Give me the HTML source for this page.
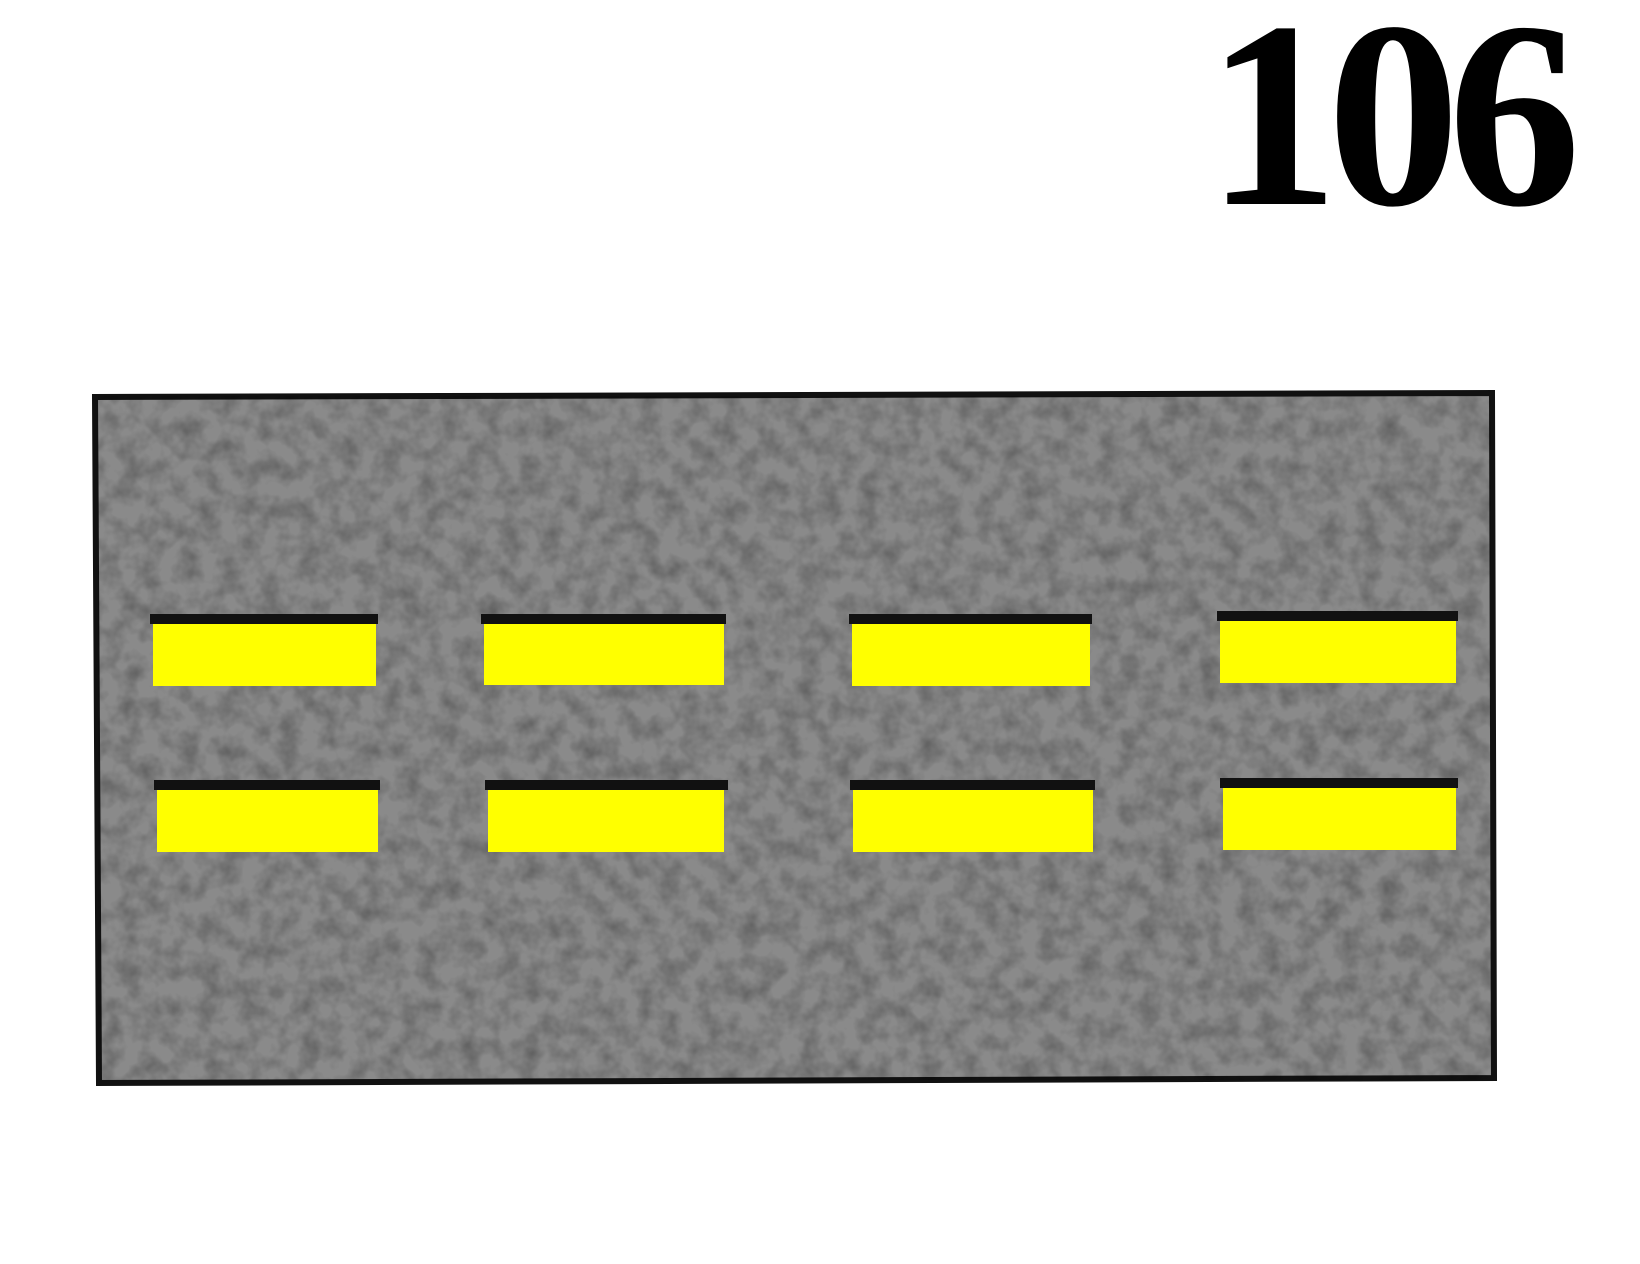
<!DOCTYPE html>
<html><head><meta charset="utf-8"><style>
html,body{margin:0;padding:0;background:#fff;width:1640px;height:1264px;overflow:hidden}
.num{position:absolute;left:1206px;top:-18px;font:bold 266px "Liberation Serif",serif;color:#000;letter-spacing:-12px;line-height:1}
</style></head><body>
<div class="num">106</div>
<svg width="1640" height="1264" style="position:absolute;left:0;top:0">
<defs>
<filter id="noise" x="0" y="0" width="100%" height="100%">
<feTurbulence type="fractalNoise" baseFrequency="0.05" numOctaves="3" seed="3"/>
<feColorMatrix type="matrix" values="0 0 0 0 0  0 0 0 0 0  0 0 0 0 0  0 0 0 -1.4 0.9"/>
</filter>
</defs>
<g>
<polygon points="95,397 1492,393 1494,1078 99,1083" fill="#8a8a8a" stroke="#111" stroke-width="6"/>
<polygon points="98,400 1489,396 1491,1075 102,1080" fill="#000" filter="url(#noise)" opacity="0.35"/>
</g>
<g>
<rect x="150" y="614" width="228" height="10" fill="#111"/><rect x="153" y="624" width="223" height="62" fill="#ff0"/>
<rect x="481" y="614" width="245" height="10" fill="#111"/><rect x="484" y="624" width="240" height="61" fill="#ff0"/>
<rect x="849" y="614" width="243" height="10" fill="#111"/><rect x="852" y="624" width="238" height="62" fill="#ff0"/>
<rect x="1217" y="611" width="241" height="10" fill="#111"/><rect x="1220" y="621" width="236" height="62" fill="#ff0"/>
</g>
<g>
<rect x="154" y="780" width="226" height="10" fill="#111"/><rect x="157" y="790" width="221" height="62" fill="#ff0"/>
<rect x="485" y="780" width="243" height="10" fill="#111"/><rect x="488" y="790" width="236" height="62" fill="#ff0"/>
<rect x="850" y="780" width="245" height="10" fill="#111"/><rect x="853" y="790" width="240" height="62" fill="#ff0"/>
<rect x="1220" y="778" width="238" height="10" fill="#111"/><rect x="1223" y="788" width="233" height="62" fill="#ff0"/>
</g>
</svg>
</body></html>
